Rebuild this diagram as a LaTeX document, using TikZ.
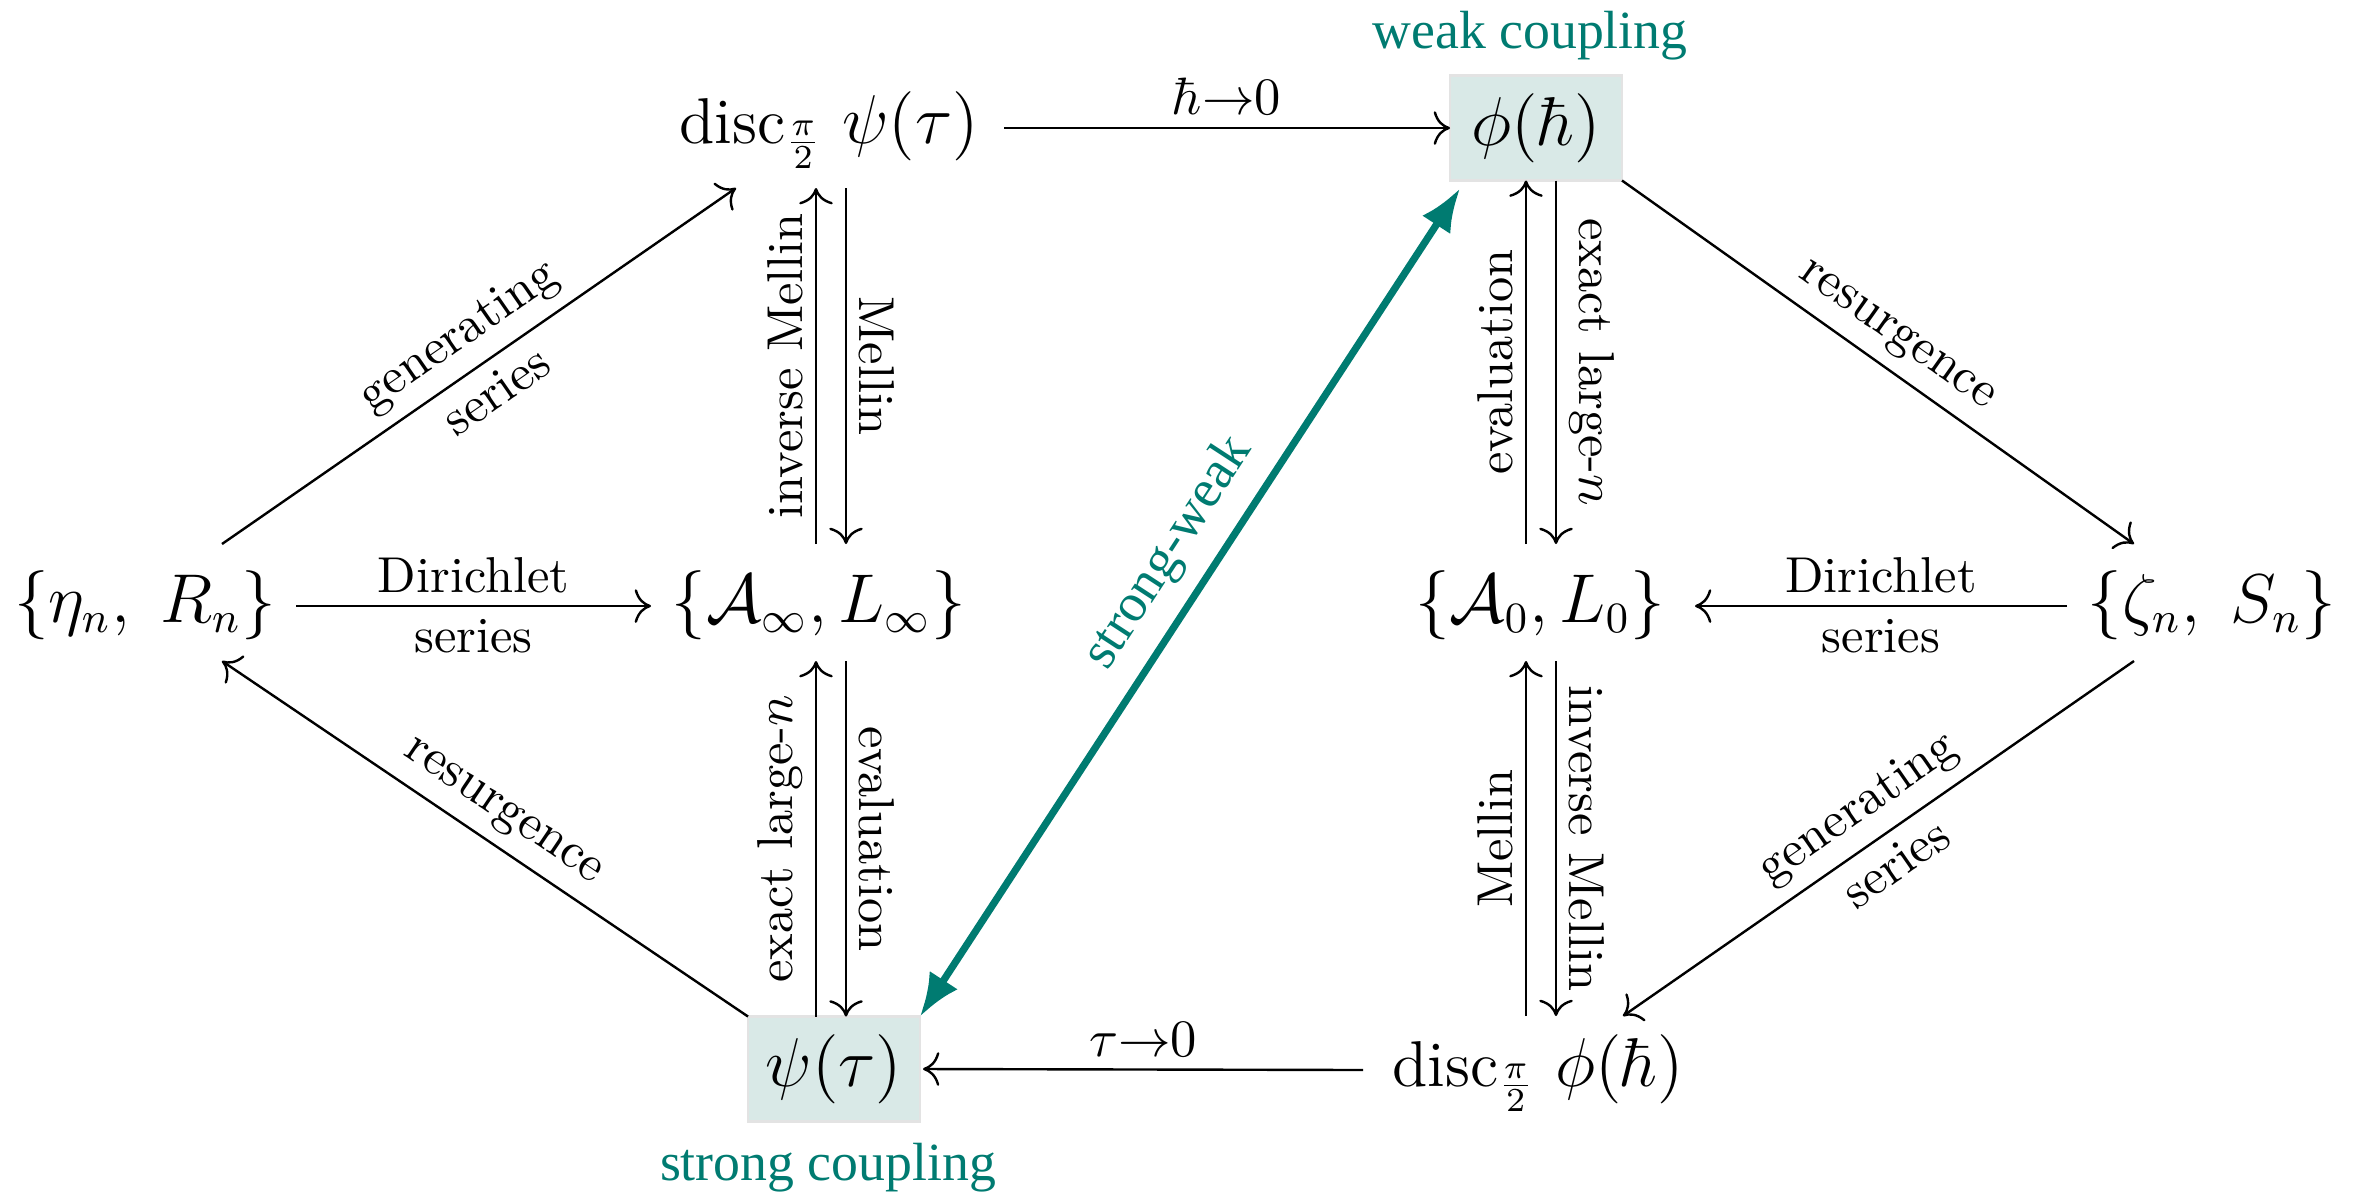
\documentclass[tikz,border=0pt]{standalone}
\usepackage{fontspec}
\usepackage{amsmath}
\newfontfamily\tealfont{Liberation Serif}
\usetikzlibrary{arrows.meta,calc}
\definecolor{tealc}{RGB}{0,123,113}
\definecolor{boxfill}{RGB}{217,233,231}
\newcommand\pxu{0.20833pt}
\begin{document}
\begin{tikzpicture}[x=0.20833pt,y=-0.20833pt,
  mainnode/.style={inner sep=0pt, outer sep=0pt, anchor=base, font=\fontsize{13.5}{16}\selectfont},
  boxnode/.style={draw=black!11, line width=0.6pt, fill=boxfill, inner sep=0pt, outer sep=0pt,
     minimum width=172*\pxu, minimum height=105*\pxu, font=\fontsize{13.5}{16}\selectfont},
  arr/.style={line width=0.5pt, -{Computer Modern Rightarrow[width=7pt,length=3.4pt]}},
  lab/.style={font=\fontsize{10.5}{12.6}\selectfont, inner sep=2.5pt},
  teallab/.style={font=\tealfont\fontsize{11.2}{13}\selectfont, text=tealc},
  swarr/.style={draw=tealc, line width=1.5pt, {Latex[length=9pt,width=7pt]}-{Latex[length=9pt,width=7pt]}}
]
\path[use as bounding box] (0,0) rectangle (2357,1193);

% nodes
\node[mainnode] (dpsi) at (829,143) {$\mathrm{disc}_{\frac{\pi}{2}}\;\psi(\tau)$};
\node[boxnode] (phi) at (1536,128) {$\phi(\hbar)$};
\node[mainnode] (eta) at (145,622) {$\{\eta_n,\; R_n\}$};
\node[mainnode] (Ainf) at (819,622) {$\{\mathcal{A}_\infty, L_\infty\}$};
\node[mainnode] (A0) at (1540,622) {$\{\mathcal{A}_0, L_0\}$};
\node[mainnode] (zeta) at (2212,622) {$\{\zeta_n,\; S_n\}$};
\node[boxnode] (psi) at (834,1069) {$\psi(\tau)$};
\node[mainnode] (dphi) at (1538,1086) {$\mathrm{disc}_{\frac{\pi}{2}}\;\phi(\hbar)$};

\node[teallab, anchor=base] (weak) at (1530,48) {weak coupling};
\node[teallab, anchor=base] (strong) at (828,1180) {strong coupling};

% horizontal arrows
\draw[arr] ([shift={(175,-15)}]dpsi.base) -- node[lab, above] {$\hbar{\to}0$} (phi.west);
\draw[arr] ([shift={(151,-16)}]eta.base) -- node[lab, above] {Dirichlet} node[lab, below] {series} ([shift={(-168,-16)}]Ainf.base);
\draw[arr] ([shift={(-145,-16)}]zeta.base) -- node[lab, above] {Dirichlet} node[lab, below] {series} ([shift={(155,-16)}]A0.base);
\draw[arr] ([shift={(-175,-16)}]dphi.base) -- node[lab, above] {$\tau{\to}0$} ([xshift=3*\pxu]psi.east);

% vertical pairs, top left
\draw[arr] ([shift={(-3,-78)}]Ainf.base) -- node[lab, sloped, above] {inverse Mellin} ([shift={(-13,45)}]dpsi.base);
\draw[arr] ([shift={(17,45)}]dpsi.base) -- node[lab, sloped, above] {Mellin} ([shift={(27,-78)}]Ainf.base);
% bottom left
\draw[arr] ([xshift=-18*\pxu]psi.north) -- node[lab, sloped, above] {exact large-$n$} ([shift={(-3,39)}]Ainf.base);
\draw[arr] ([shift={(27,39)}]Ainf.base) -- node[lab, sloped, above] {evaluation} ([xshift=12*\pxu]psi.north);
% top right
\draw[arr] ([shift={(-14,-78)}]A0.base) -- node[lab, sloped, above] {evaluation} ([xshift=-10*\pxu]phi.south);
\draw[arr] ([xshift=20*\pxu]phi.south) -- node[lab, sloped, above] {exact large-$n$} ([shift={(16,-78)}]A0.base);
% bottom right
\draw[arr] ([shift={(-12,-70)}]dphi.base) -- node[lab, sloped, above] {Mellin} ([shift={(-14,39)}]A0.base);
\draw[arr] ([shift={(16,39)}]A0.base) -- node[lab, sloped, above] {inverse Mellin} ([shift={(18,-70)}]dphi.base);

% diagonals
\draw[arr] ([shift={(77,-78)}]eta.base) -- node[lab, sloped, above] {generating} node[lab, sloped, below] {series} ([shift={(-93,45)}]dpsi.base);
\draw[arr] (phi.south east) -- node[lab, sloped, above] {resurgence} ([shift={(-78,-78)}]zeta.base);
\draw[arr] ([shift={(-78,39)}]zeta.base) -- node[lab, sloped, above] {generating} node[lab, sloped, below] {series} ([shift={(85,-70)}]dphi.base);
\draw[arr] (psi.north west) -- node[lab, sloped, above] {resurgence} ([shift={(77,39)}]eta.base);

% strong-weak
\draw[swarr] (psi.north east) -- node[teallab, sloped, above, pos=0.53] {strong-weak} ([shift={(10,8)}]phi.south west);
\end{tikzpicture}
\end{document}
